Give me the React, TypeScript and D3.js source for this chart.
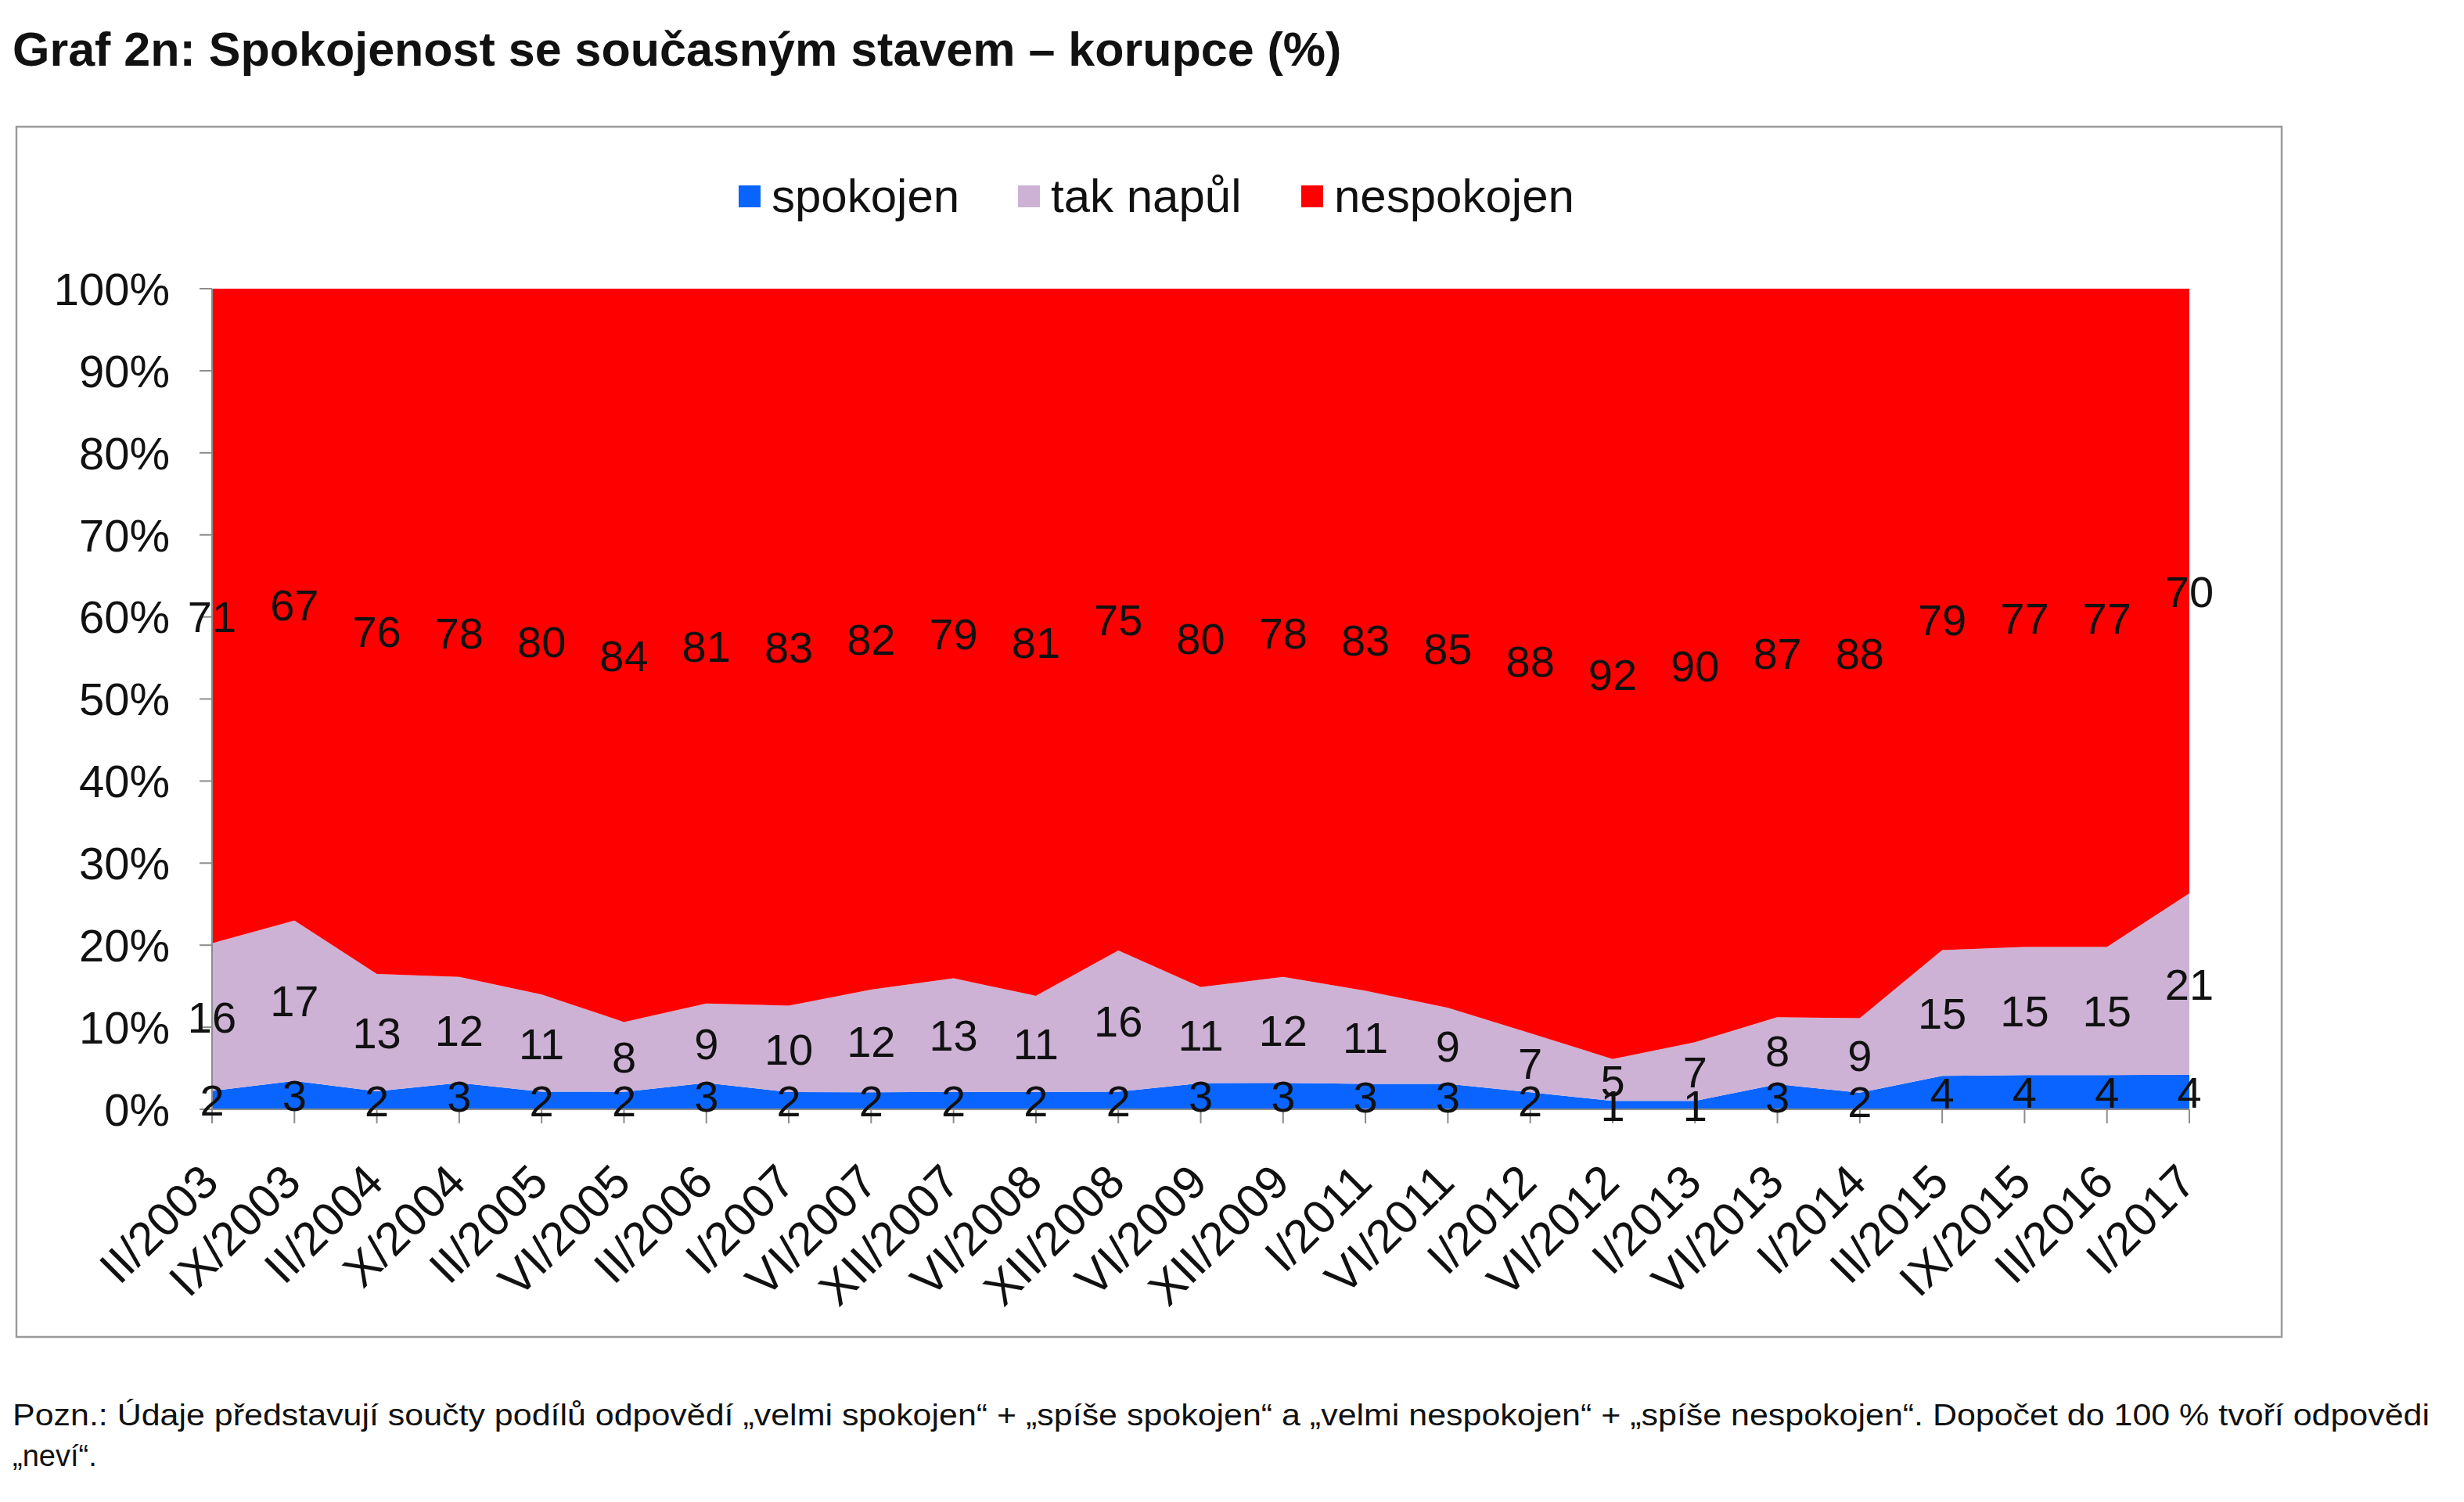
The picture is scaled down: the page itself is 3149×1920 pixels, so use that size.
import * as d3 from "d3";

const categories = [
  "II/2003", "IX/2003", "II/2004", "X/2004", "II/2005", "VI/2005", "II/2006",
  "I/2007", "VI/2007", "XII/2007", "VI/2008", "XII/2008", "VI/2009", "XII/2009",
  "I/2011", "VI/2011", "I/2012", "VI/2012", "I/2013", "VI/2013", "I/2014",
  "II/2015", "IX/2015", "II/2016", "I/2017",
];
const spokojen = [2, 3, 2, 3, 2, 2, 3, 2, 2, 2, 2, 2, 3, 3, 3, 3, 2, 1, 1, 3, 2, 4, 4, 4, 4];
const takNapul = [16, 17, 13, 12, 11, 8, 9, 10, 12, 13, 11, 16, 11, 12, 11, 9, 7, 5, 7, 8, 9, 15, 15, 15, 21];
const nespokojen = [71, 67, 76, 78, 80, 84, 81, 83, 82, 79, 81, 75, 80, 78, 83, 85, 88, 92, 90, 87, 88, 79, 77, 77, 70];

const seriesNames = ["spokojen", "tak napůl", "nespokojen"];
const seriesColors = ["#0a64ff", "#cdb2d5", "#ff0000"];
const yTicks = [0, 0.1, 0.2, 0.3, 0.4, 0.5, 0.6, 0.7, 0.8, 0.9, 1];

const FONT = "'Liberation Sans', Arial, Helvetica, sans-serif";

export default function App() {
  const W = 3149;
  const H = 1920;
  const plot = { left: 271, right: 2798, top: 369, bottom: 1418 };

  const rows = categories.map((c, i) => ({
    cat: c,
    s0: spokojen[i],
    s1: takNapul[i],
    s2: nespokojen[i],
  }));

  // 100% stacked: each column is normalised to its own total
  const stack = d3
    .stack<any>()
    .keys(["s0", "s1", "s2"])
    .offset(d3.stackOffsetExpand);
  const layers = stack(rows);

  const x = d3.scalePoint<string>().domain(categories).range([plot.left, plot.right]);
  const y = d3.scaleLinear().domain([0, 1]).range([plot.bottom, plot.top]);

  const area = d3
    .area<any>()
    .x((d) => x(d.data.cat) as number)
    .y0((d) => y(d[0]))
    .y1((d) => y(d[1]))
    .curve(d3.curveLinear);

  const rawValues = [spokojen, takNapul, nespokojen];
  const legendX = [944, 1301, 1663];

  return (
    <svg
      width={W}
      height={H}
      style={{ position: "absolute", left: 0, top: 0, display: "block", background: "#fff" }}
      fontFamily={FONT}
    >
      <rect x={0} y={0} width={W} height={H} fill="#fff" />
      {/* title */}
      <text x={16} y={84} fontSize={61} fontWeight="bold" fill="#111">
        Graf 2n: Spokojenost se současným stavem – korupce (%)
      </text>

      {/* chart frame */}
      <rect x={21} y={162} width={2895} height={1547} fill="none" stroke="#9a9a9a" strokeWidth={2.5} />

      {/* legend */}
      {seriesNames.map((n, i) => (
        <g key={n}>
          <rect x={legendX[i]} y={237} width={28} height={28} fill={seriesColors[i]} />
          <text x={legendX[i] + 42} y={271} fontSize={60} fill="#111">
            {n}
          </text>
        </g>
      ))}

      {/* areas */}
      {layers.map((layer, i) => (
        <path key={i} d={area(layer) as string} fill={seriesColors[i]} />
      ))}

      {/* axes */}
      <line x1={plot.left} x2={plot.left} y1={plot.top} y2={plot.bottom} stroke="#8c8c8c" strokeWidth={2} />
      <line x1={plot.left} x2={plot.right} y1={plot.bottom} y2={plot.bottom} stroke="#8c8c8c" strokeWidth={2} />
      {yTicks.map((t) => (
        <g key={t}>
          <line x1={plot.left - 16} x2={plot.left} y1={y(t)} y2={y(t)} stroke="#8c8c8c" strokeWidth={2} />
          <text x={217} y={y(t)} dy="0.36em" textAnchor="end" fontSize={58} fill="#111">
            {d3.format(".0%")(t)}
          </text>
        </g>
      ))}
      {categories.map((c) => (
        <g key={c}>
          <line
            x1={x(c)}
            x2={x(c)}
            y1={plot.bottom}
            y2={plot.bottom + 18}
            stroke="#8c8c8c"
            strokeWidth={2}
          />
          <text
            transform={`translate(${(x(c) as number) - 4},${plot.bottom + 81}) rotate(-45)`}
            textAnchor="end"
            dy="0.36em"
            fontSize={60}
            fill="#111"
          >
            {c}
          </text>
        </g>
      ))}

      {/* data labels, centred in each band */}
      {layers.map((layer, i) =>
        layer.map((d, j) => (
          <text
            key={`${i}-${j}`}
            x={x(d.data.cat)}
            y={y((d[0] + d[1]) / 2)}
            dy="0.36em"
            textAnchor="middle"
            fontSize={56}
            fill="#111"
          >
            {rawValues[i][j]}
          </text>
        ))
      )}

      {/* note */}
      <text x={16} y={1822} fontSize={38} fill="#111" textLength={3089} lengthAdjust="spacingAndGlyphs">
        Pozn.: Údaje představují součty podílů odpovědí „velmi spokojen“ + „spíše spokojen“ a „velmi nespokojen“ + „spíše nespokojen“. Dopočet do 100 % tvoří odpovědi
      </text>
      <text x={16} y={1874} fontSize={38} fill="#111">
        „neví“.
      </text>
    </svg>
  );
}
